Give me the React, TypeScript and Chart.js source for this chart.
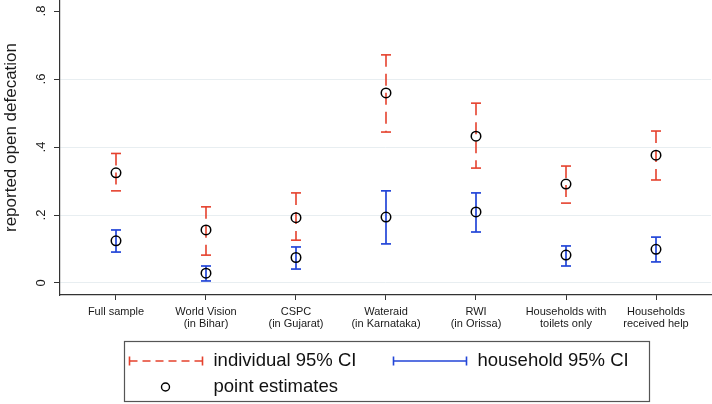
import React, { useEffect, useRef } from "react";
import { Chart, registerables } from "chart.js";

Chart.register(...registerables);

const FONT = '"Liberation Sans", Arial, Helvetica, sans-serif';
const RED = "#e5412d";
const BLUE = "#2346d8";

const categories: string[][] = [
  ["Full sample"],
  ["World Vision", "(in Bihar)"],
  ["CSPC", "(in Gujarat)"],
  ["Wateraid", "(in Karnataka)"],
  ["RWI", "(in Orissa)"],
  ["Households with", "toilets only"],
  ["Households", "received help"],
];

const individualPoint = [0.324, 0.156, 0.192, 0.559, 0.432, 0.291, 0.376];
const individualUpper = [0.381, 0.224, 0.265, 0.671, 0.529, 0.344, 0.447];
const individualLower = [0.271, 0.082, 0.126, 0.444, 0.338, 0.235, 0.303];

const householdPoint = [0.124, 0.029, 0.075, 0.194, 0.209, 0.082, 0.099];
const householdUpper = [0.156, 0.05, 0.106, 0.271, 0.265, 0.109, 0.135];
const householdLower = [0.091, 0.006, 0.041, 0.115, 0.15, 0.05, 0.062];

const yTickValues = [0, 0.2, 0.4, 0.6, 0.8];
const yTickLabels = ["0", ".2", ".4", ".6", ".8"];
const yTitle = "reported open defecation";
const legendLabels = ["individual 95% CI", "household 95% CI", "point estimates"];

function segs(hi: number[], lo: number[]) {
  const out: { x: number; y: number | null }[] = [];
  hi.forEach((h, i) => {
    out.push({ x: i + 1, y: h });
    out.push({ x: i + 1, y: lo[i] });
    out.push({ x: i + 1, y: null });
  });
  return out;
}

const customPlugin = {
  id: "customText",
  afterDraw(chart: any) {
    const ctx = chart.ctx as CanvasRenderingContext2D;
    const ys = chart.scales.y;
    const area = chart.chartArea;
    ctx.save();
    ctx.fillStyle = "#1a1a1a";
    ctx.textAlign = "center";
    ctx.textBaseline = "middle";
    ctx.font = `13px ${FONT}`;
    yTickValues.forEach((v, i) => {
      const py = ys.getPixelForValue(v);
      ctx.save();
      ctx.translate(area.left - 19, py);
      ctx.rotate(-Math.PI / 2);
      ctx.fillText(yTickLabels[i], 0, 0);
      ctx.restore();
    });
    ctx.font = `17px ${FONT}`;
    ctx.save();
    ctx.translate(11, (area.top + area.bottom) / 2 - 10);
    ctx.rotate(-Math.PI / 2);
    ctx.fillText(yTitle, 0, 0);
    ctx.restore();

    // legend
    const cx = (area.left + area.right) / 2;
    const bx = cx - 262;
    const bw = 525;
    const by = 341.5;
    const bh = 60;
    ctx.strokeStyle = "#555";
    ctx.lineWidth = 1.2;
    ctx.strokeRect(Math.round(bx) + 0.5, by, bw, bh);
    const r1 = by + 19.5;
    const r2 = by + 45.5;
    const lx = bx + 6;
    // red dashed
    ctx.strokeStyle = RED;
    ctx.lineWidth = 1.6;
    ctx.setLineDash([8, 5]);
    ctx.beginPath();
    ctx.moveTo(lx, r1);
    ctx.lineTo(lx + 73, r1);
    ctx.stroke();
    ctx.setLineDash([]);
    ctx.beginPath();
    ctx.moveTo(lx, r1 - 4.5);
    ctx.lineTo(lx, r1 + 4.5);
    ctx.moveTo(lx + 73, r1 - 4.5);
    ctx.lineTo(lx + 73, r1 + 4.5);
    ctx.stroke();
    // blue solid
    const bl = bx + 270;
    ctx.strokeStyle = BLUE;
    ctx.beginPath();
    ctx.moveTo(bl, r1);
    ctx.lineTo(bl + 73, r1);
    ctx.moveTo(bl, r1 - 4.5);
    ctx.lineTo(bl, r1 + 4.5);
    ctx.moveTo(bl + 73, r1 - 4.5);
    ctx.lineTo(bl + 73, r1 + 4.5);
    ctx.stroke();
    // circle
    ctx.strokeStyle = "#000";
    ctx.lineWidth = 1.4;
    ctx.beginPath();
    ctx.arc(lx + 36, r2, 4, 0, Math.PI * 2);
    ctx.stroke();
    // texts
    ctx.fillStyle = "#111";
    ctx.font = `18.5px ${FONT}`;
    ctx.textAlign = "left";
    ctx.fillText(legendLabels[0], bx + 90, r1);
    ctx.fillText(legendLabels[1], bx + 354, r1);
    ctx.fillText(legendLabels[2], bx + 90, r2);
    ctx.restore();
  },
};

export default function App() {
  const ref = useRef<HTMLCanvasElement | null>(null);
  useEffect(() => {
    if (!ref.current) return;
    const points = [
      ...individualPoint.map((v, i) => ({ x: i + 1, y: v })),
      ...householdPoint.map((v, i) => ({ x: i + 1, y: v })),
    ];
    const chart = new Chart(ref.current, {
      type: "scatter",
      data: {
        datasets: [
          {
            label: legendLabels[2],
            data: points,
            showLine: false,
            pointStyle: "circle",
            pointRadius: 4.75,
            pointHoverRadius: 4.75,
            pointBorderWidth: 1.5,
            pointBorderColor: "#000",
            pointBackgroundColor: "rgba(0,0,0,0)",
          },
          {
            label: legendLabels[1],
            data: segs(householdUpper, householdLower) as any,
            showLine: true,
            spanGaps: false,
            borderColor: BLUE,
            borderWidth: 1.7,
            pointStyle: "line",
            pointRadius: 5,
            pointHoverRadius: 5,
            pointBorderColor: BLUE,
            pointBorderWidth: 1.7,
          },
          {
            label: legendLabels[0],
            data: segs(individualUpper, individualLower) as any,
            showLine: true,
            spanGaps: false,
            borderColor: RED,
            borderWidth: 1.6,
            borderDash: [12, 7],
            pointStyle: "line",
            pointRadius: 5,
            pointHoverRadius: 5,
            pointBorderColor: RED,
            pointBorderWidth: 1.6,
          },
        ],
      },
      options: {
        responsive: false,
        animation: false,
        layout: { autoPadding: false, padding: { top: 0, left: 0, right: 1, bottom: 0 } },
        plugins: { legend: { display: false }, tooltip: { enabled: false } },
        scales: {
          x: {
            type: "linear",
            min: 0.3778,
            max: 7.6111,
            afterFit: (s: any) => {
              s.height = 109;
              s.paddingLeft = 0;
              s.paddingRight = 0;
            },
            ticks: {
              stepSize: 1,
              includeBounds: false,
              autoSkip: false,
              maxRotation: 0,
              minRotation: 0,
              padding: 6,
              color: "#1a1a1a",
              font: { family: FONT, size: 11, lineHeight: 1.1 },
              callback: (v: any) => categories[Math.round(Number(v)) - 1] ?? "",
            },
            grid: {
              drawOnChartArea: false,
              drawTicks: true,
              tickLength: 5,
              color: "#333",
              tickColor: "#333",
            },
            border: { display: true, color: "#333", width: 1.2 },
          },
          y: {
            type: "linear",
            min: -0.0353,
            max: 0.8324,
            afterFit: (s: any) => {
              s.width = 60;
              s.paddingTop = 0;
              s.paddingBottom = 0;
            },
            ticks: { stepSize: 0.2, includeBounds: false, display: false },
            grid: {
              drawOnChartArea: true,
              drawTicks: true,
              tickLength: 6,
              lineWidth: 1,
              color: (c: any) =>
                c.tick && c.tick.value > 0.7 ? "rgba(0,0,0,0)" : "#e8eef1",
              tickColor: "#333",
            },
            border: { display: true, color: "#333", width: 1.2 },
          },
        },
      },
      plugins: [customPlugin],
    });
    return () => chart.destroy();
  }, []);
  return (
    <div style={{ position: "fixed", left: 0, top: 0, width: 712, height: 404, background: "#fff" }}>
      <canvas ref={ref} width={712} height={404} style={{ width: 712, height: 404 }} />
    </div>
  );
}
